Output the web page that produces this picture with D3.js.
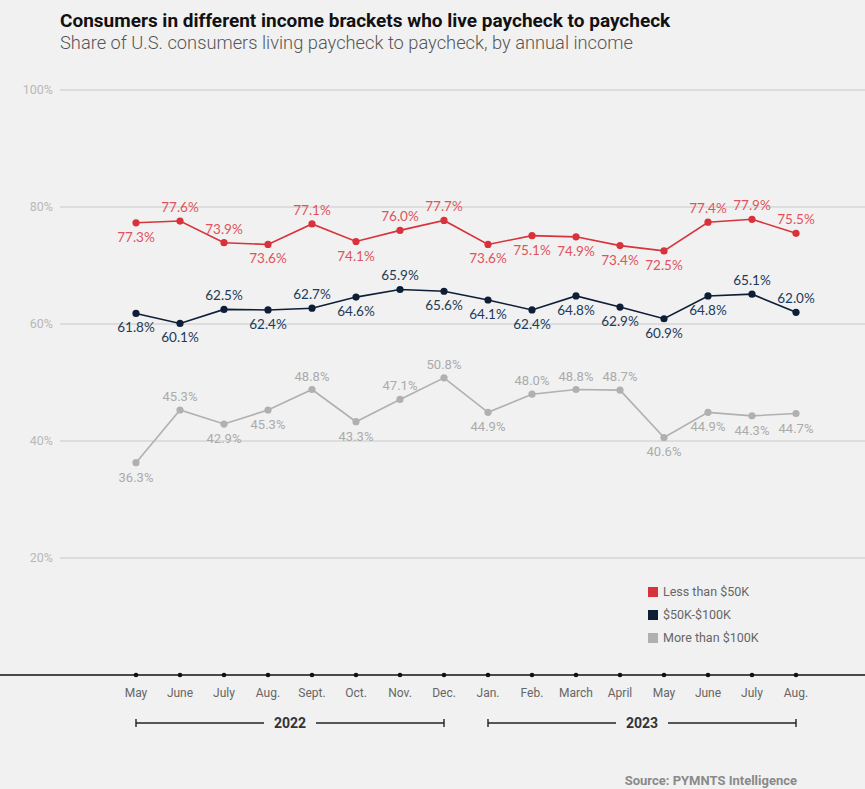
<!DOCTYPE html>
<html>
<head>
<meta charset="utf-8">
<script src="https://cdn.jsdelivr.net/npm/d3@7"></script>
<style>
  body { margin:0; background:#f1f1f1; }
  svg { display:block; font-family: Roboto, "Liberation Sans", sans-serif; }
</style>
</head>
<body>
<svg id="chart" width="865" height="789"></svg>
<script>
// data
let months = ["May","June","July","Aug.","Sept.","Oct.","Nov.","Dec.","Jan.","Feb.","March","April","May","June","July","Aug."];
let lessThan50 = [77.3,77.6,73.9,73.6,77.1,74.1,76.0,77.7,73.6,75.1,74.9,73.4,72.5,77.4,77.9,75.5];
let from50to100 = [61.8,60.1,62.5,62.4,62.7,64.6,65.9,65.6,64.1,62.4,64.8,62.9,60.9,64.8,65.1,62.0];
let moreThan100 = [36.3,45.3,42.9,45.3,48.8,43.3,47.1,50.8,44.9,48.0,48.8,48.7,40.6,44.9,44.3,44.7];
// which side the value label sits on: 1 above, 0 below
let redSide  = [0,1,1,0,1,0,1,1,0,0,0,0,0,1,1,1];
let navySide = [0,0,1,0,1,0,1,0,0,0,0,0,0,0,1,1];
let graySide = [0,1,0,0,1,0,1,1,0,1,1,1,0,0,0,0];
let yTicks = [20,40,60,80,100];
let years = [{label:"2022", from:0, to:7},{label:"2023", from:8, to:15}];

let svg = d3.select("#chart")

let x = d3.scalePoint().domain(d3.range(months.length)).range([136,796])
let y = d3.scaleLinear().domain([0,100]).range([675,90])

// title
svg.append("text").attr("x",60).attr("y",27)
   .attr("font-size",19).attr("font-weight","bold").attr("fill","#111")
   .text("Consumers in different income brackets who live paycheck to paycheck")
svg.append("text").attr("x",60).attr("y",49)
   .attr("font-size",18.3).attr("font-weight",300).attr("fill","#555")
   .text("Share of U.S. consumers living paycheck to paycheck, by annual income")

// grid
let grid = svg.append("g")
grid.selectAll("line").data(yTicks).enter().append("line")
    .attr("x1",60).attr("x2",865)
    .attr("y1",d => y(d)).attr("y2",d => y(d))
    .attr("stroke","#d6d6d6").attr("stroke-width",1.5)
grid.selectAll("text").data(yTicks).enter().append("text")
    .attr("x",53).attr("y",d => y(d)+4)
    .attr("text-anchor","end").attr("font-size",12.5).attr("fill","#b8b8b8")
    .text(d => d+"%")

// series
let series = [
  {vals:lessThan50, side:redSide, color:"#d8333b", text:"#e0535a", font:13.5, fam:"Lato"},
  {vals:from50to100, side:navySide, color:"#0e1e36", text:"#213a58", font:13.5, fam:"Lato"},
  {vals:moreThan100, side:graySide, color:"#b0b0b0", text:"#ababab", font:13, fam:"Roboto"}
]
let line = d3.line().x((d,i) => x(i)).y(d => y(d))

series.forEach(function(s) {
  let g = svg.append("g")
  g.append("path").attr("d",line(s.vals))
   .attr("fill","none").attr("stroke",s.color).attr("stroke-width",1.6)
  g.selectAll("circle").data(s.vals).enter().append("circle")
   .attr("cx",(d,i) => x(i)).attr("cy",d => y(d)).attr("r",3.6)
   .attr("fill",s.color)
  g.selectAll("text").data(s.vals).enter().append("text")
   .attr("x",(d,i) => x(i))
   .attr("y",(d,i) => s.side[i] ? y(d)-9 : y(d)+19)
   .attr("text-anchor","middle").attr("font-size",s.font)
   .attr("font-family",s.fam)
   .attr("fill",s.text)
   .text(d => d.toFixed(1)+"%")
})

// legend
let legendItems = [
  {label:"Less than $50K", color:"#d8333b"},
  {label:"$50K-$100K", color:"#0e1e36"},
  {label:"More than $100K", color:"#b0b0b0"}
]
let legend = svg.append("g")
legend.selectAll("rect").data(legendItems).enter().append("rect")
      .attr("x",648).attr("y",(d,i) => 587+i*23)
      .attr("width",10).attr("height",10).attr("fill",d => d.color)
legend.selectAll("text").data(legendItems).enter().append("text")
      .attr("x",663).attr("y",(d,i) => 596+i*23)
      .attr("font-size",12.5).attr("fill","#666")
      .text(d => d.label)

// bottom axis
svg.append("line").attr("x1",0).attr("x2",865).attr("y1",675).attr("y2",675)
   .attr("stroke","#111").attr("stroke-width",1.6)
svg.append("g").selectAll("circle").data(months).enter().append("circle")
   .attr("cx",(d,i) => x(i)).attr("cy",675).attr("r",2.3).attr("fill","#111")
svg.append("g").selectAll("text").data(months).enter().append("text")
   .attr("x",(d,i) => x(i)).attr("y",697)
   .attr("text-anchor","middle").attr("font-size",12).attr("fill","#666")
   .text(d => d)

// year brackets
years.forEach(function(yr) {
  let g = svg.append("g")
  let x1 = x(yr.from), x2 = x(yr.to), mid = (x1+x2)/2
  let gap = 26
  g.append("line").attr("x1",x1).attr("x2",mid-gap).attr("y1",723).attr("y2",723)
  g.append("line").attr("x1",mid+gap).attr("x2",x2).attr("y1",723).attr("y2",723)
  g.append("line").attr("x1",x1).attr("x2",x1).attr("y1",719).attr("y2",727)
  g.append("line").attr("x1",x2).attr("x2",x2).attr("y1",719).attr("y2",727)
  g.selectAll("line").attr("stroke","#222").attr("stroke-width",1.4)
  g.append("text").attr("x",mid).attr("y",728)
   .attr("text-anchor","middle").attr("font-size",14).attr("font-weight","bold").attr("fill","#333")
   .text(yr.label)
})

// source
svg.append("text").attr("x",797).attr("y",785)
   .attr("text-anchor","end").attr("font-size",13).attr("font-weight","bold").attr("fill","#8a8a8a")
   .text("Source: PYMNTS Intelligence")
</script>
</body>
</html>
